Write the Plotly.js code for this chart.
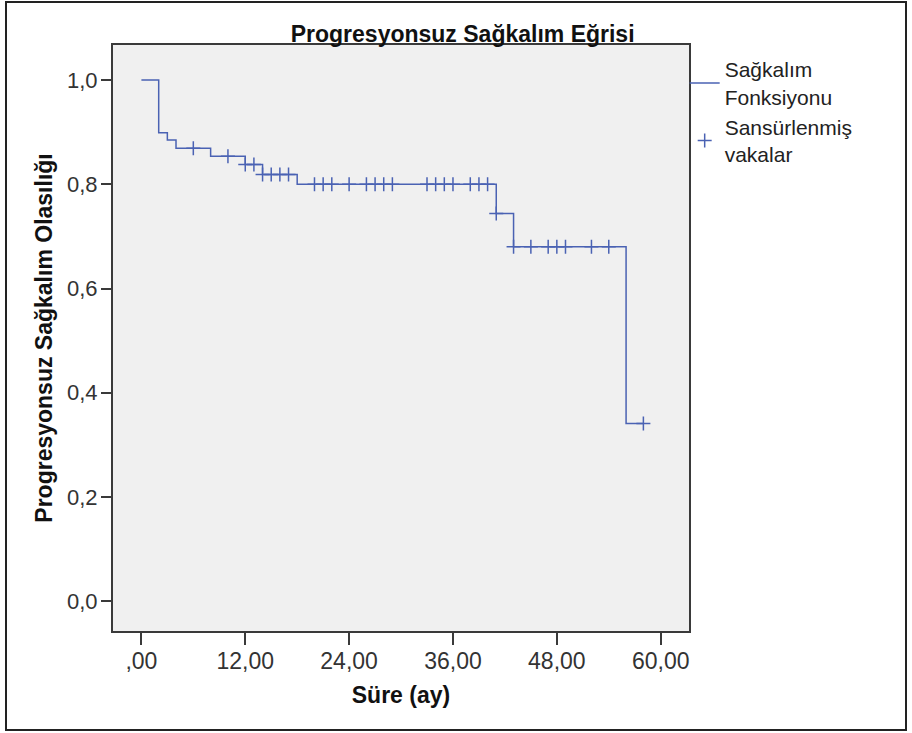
<!DOCTYPE html>
<html>
<head>
<meta charset="utf-8">
<script src="https://cdn.plot.ly/plotly-3.0.1.min.js"></script>
<style>
html,body{margin:0;padding:0;background:#fff;}
#chart{position:absolute;left:0;top:0;width:912px;height:733px;}
#frame{position:absolute;left:5px;top:1px;width:902px;height:730px;border:2px solid #222;box-sizing:border-box;pointer-events:none;}
</style>
</head>
<body>
<div id="chart"></div>
<div id="frame"></div>
<script>
// Kaplan-Meier step values (time in months, survival probability)
var eventTimes = [0, 2, 3, 4, 8, 12, 14, 18, 41, 43, 56, 58];
var survival   = [1.0, 0.899, 0.885, 0.869, 0.854, 0.838, 0.819, 0.800, 0.744, 0.680, 0.341, 0.341];
// censored cases (time in months)
var censorTimes = [6, 10, 12, 13, 14, 15, 16, 17, 20, 21, 22, 24, 26, 27, 28, 29, 33, 34, 35, 36, 38, 39, 40, 41, 43, 45, 47, 48, 49, 52, 54, 58];
// tick labels
var xTickVals = [0, 12, 24, 36, 48, 60];
var xTickText = [",00", "12,00", "24,00", "36,00", "48,00", "60,00"];
var yTickVals = [0, 0.2, 0.4, 0.6, 0.8, 1.0];
var yTickText = ["0,0", "0,2", "0,4", "0,6", "0,8", "1,0"];

function survAt(t) {
  var s = survival[0];
  for (var i = 0; i < eventTimes.length; i++) {
    if (eventTimes[i] <= t) s = survival[i];
  }
  return s;
}
var censorSurv = censorTimes.map(survAt);

var lineColor = '#4a62b3';
var font = 'Arial, "Liberation Sans", sans-serif';

var traces = [
  {
    x: eventTimes, y: survival, type: 'scatter', mode: 'lines',
    line: {shape: 'hv', color: lineColor, width: 1.5},
    name: 'Sağkalım<br>Fonksiyonu', hoverinfo: 'x+y'
  },
  {
    x: censorTimes, y: censorSurv, type: 'scatter', mode: 'markers',
    marker: {symbol: 'cross-thin', size: 10, color: lineColor, line: {color: lineColor, width: 1.5}},
    name: 'Sansürlenmiş<br>vakalar', hoverinfo: 'x+y'
  }
];

var layout = {
  width: 912, height: 733,
  margin: {l: 113, r: 223, t: 45, b: 102, pad: 0},
  paper_bgcolor: '#ffffff',
  plot_bgcolor: '#f0f0f0',
  font: {family: font, color: '#222'},
  title: {
    text: '<b>Progresyonsuz Sağkalım Eğrisi</b>',
    font: {family: font, size: 23, color: '#111'},
    xref: 'paper', x: 0.607, xanchor: 'center',
    yref: 'container', y: 1 - 34/733, yanchor: 'middle'
  },
  xaxis: {
    range: [-3.28, 63.27],
    tickvals: xTickVals, ticktext: xTickText,
    ticks: 'outside', ticklen: 12, tickwidth: 2, tickcolor: '#3a3a3a',
    showline: true, linecolor: '#3a3a3a', linewidth: 2, mirror: true,
    showgrid: false, zeroline: false, ticklabelstandoff: -4,
    tickfont: {family: font, size: 23, color: '#333'},
    title: {text: '<b>Süre (ay)</b>', font: {family: font, size: 23, color: '#111'}, standoff: 14}
  },
  yaxis: {
    range: [-0.057, 1.0672],
    tickvals: yTickVals, ticktext: yTickText,
    ticks: 'outside', ticklen: 10, tickwidth: 2, tickcolor: '#3a3a3a',
    showline: true, linecolor: '#3a3a3a', linewidth: 2, mirror: true,
    showgrid: false, zeroline: false, ticklabelstandoff: -1,
    tickfont: {family: font, size: 22, color: '#333'},
    title: {text: '<b>Progresyonsuz Sağkalım Olasılığı</b>', font: {family: font, size: 23, color: '#111'}, standoff: 8}
  },
  showlegend: true,
  legend: {
    x: 0.9925, xanchor: 'left', y: 0.993, yanchor: 'top',
    font: {family: font, size: 21, color: '#222'},
    bgcolor: 'rgba(0,0,0,0)', borderwidth: 0,
    tracegroupgap: 0, itemwidth: 30
  }
};

Plotly.newPlot('chart', traces, layout, {displayModeBar: false, staticPlot: true});
</script>
</body>
</html>
